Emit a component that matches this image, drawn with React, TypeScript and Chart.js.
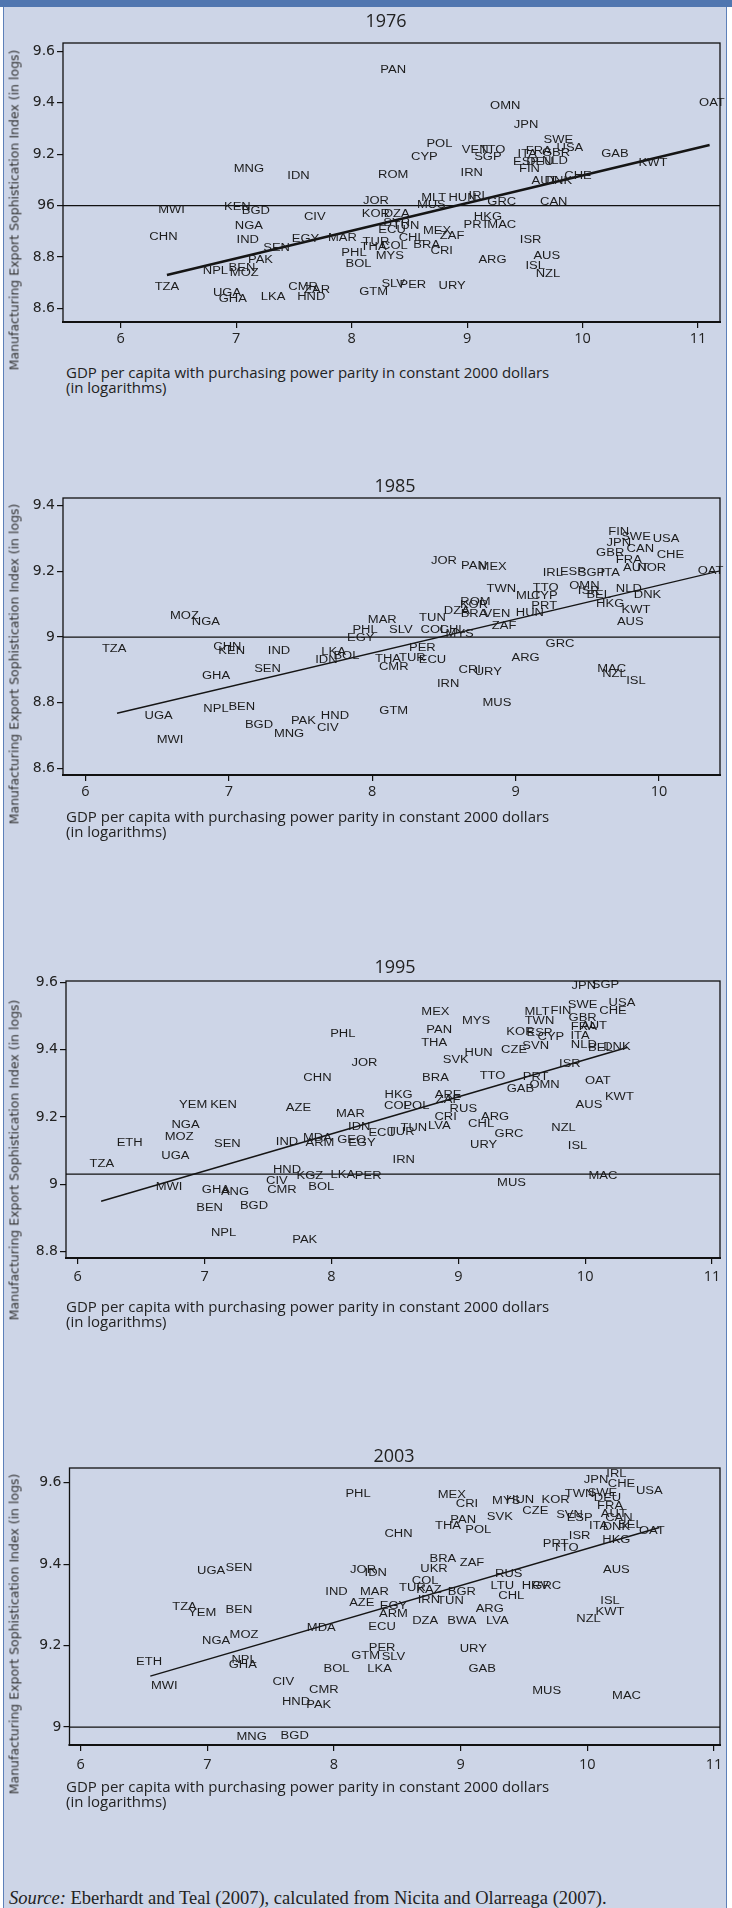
import React, { useEffect, useRef } from "react";
import { Chart, registerables } from "chart.js";
Chart.register(...registerables);

// ---------- 1976 ----------
const codes1976 = ["PAN","OMN","OAT","JPN","SWE","USA","POL","VEN","TTO","SGP","CYP","ITA","FRA","GBR","ESP","DEU","NLD","GAB","KWT","MNG","IDN","ROM","IRN","FIN","CHE","AUT","DNK","JOR","MLT","HUN","IRL","MUS","GRC","CAN","MWI","KEN","BGD","CIV","KOR","DZA","SYR","TUN","ECU","HKG","PRT","MAC","NGA","CHN","IND","MEX","CHL","ZAF","ISR","EGY","MAR","SEN","TUR","THA","COL","BRA","PHL","MYS","CRI","ARG","AUS","ISL","NZL","PAK","BOL","NPL","BEN","MOZ","TZA","UGA","GHA","LKA","CMR","ZAR","HND","GTM","SLV","PER","URY"];
const gdp1976 = [8.36,9.33,11.12,9.51,9.79,9.89,8.76,9.07,9.22,9.18,8.63,9.52,9.62,9.77,9.51,9.63,9.76,10.28,10.61,7.11,7.54,8.36,9.04,9.54,9.96,9.67,9.79,8.21,8.71,8.96,9.10,8.69,9.30,9.75,6.44,7.01,7.17,7.68,8.21,8.39,8.39,8.47,8.35,9.18,9.08,9.30,7.11,6.37,7.10,8.74,8.52,8.87,9.55,7.60,7.92,7.35,8.21,8.19,8.37,8.65,8.02,8.33,8.78,9.22,9.69,9.59,9.70,7.21,8.06,6.82,7.05,7.07,6.40,6.92,6.97,7.32,7.58,7.70,7.65,8.19,8.36,8.53,8.87];
const esi1976 = [9.525,9.388,9.40,9.314,9.253,9.223,9.24,9.214,9.214,9.188,9.188,9.20,9.212,9.205,9.167,9.17,9.171,9.20,9.165,9.142,9.113,9.12,9.126,9.142,9.113,9.096,9.093,9.016,9.029,9.029,9.038,9.003,9.012,9.012,8.983,8.994,8.977,8.955,8.968,8.968,8.93,8.92,8.903,8.955,8.925,8.925,8.918,8.877,8.867,8.899,8.873,8.879,8.864,8.87,8.873,8.834,8.856,8.838,8.84,8.847,8.815,8.804,8.821,8.786,8.804,8.763,8.734,8.786,8.772,8.743,8.756,8.737,8.681,8.659,8.636,8.644,8.682,8.67,8.644,8.661,8.695,8.691,8.685];
const fitX1976 = [6.40, 11.10];
const fitY1976 = [8.73, 9.236];
const xTicks1976 = [6, 7, 8, 9, 10, 11];
const yTicks1976 = [8.6, 8.8, 9.0, 9.2, 9.4, 9.6];
const yLabels1976 = ["8.6", "8.8", "96", "9.2", "9.4", "9.6"];

// ---------- 1985 ----------
const codes1985 = ["FIN","SWE","USA","JPN","CAN","GBR","CHE","FRA","AUT","NOR","JOR","PAN","MEX","IRL","ESP","SGP","ITA","OAT","TWN","TTO","OMN","NLD","ISR","BEL","DNK","MLT","CYP","HKG","ROM","KOR","PRT","KWT","DZA","BRA","VEN","HUN","MOZ","NGA","MAR","TUN","ZAF","AUS","PHL","SLV","COL","CHL","MYS","EGY","TZA","CHN","KEN","IND","LKA","IDN","BOL","PER","THA","TUR","ECU","CMR","GRC","ARG","SEN","GHA","CRI","URY","MAC","NZL","ISL","IRN","MUS","NPL","BEN","GTM","UGA","HND","PAK","BGD","CIV","MNG","MWI"];
const gdp1985 = [9.72,9.84,10.05,9.72,9.87,9.66,10.08,9.79,9.84,9.95,8.50,8.71,8.84,9.26,9.40,9.53,9.66,10.36,8.90,9.21,9.48,9.79,9.51,9.58,9.92,9.09,9.20,9.66,8.72,8.71,9.20,9.84,8.59,8.71,8.87,9.10,6.69,6.84,8.07,8.42,8.92,9.80,7.95,8.20,8.43,8.56,8.61,7.92,6.20,6.99,7.02,7.35,7.73,7.68,7.82,8.35,8.11,8.28,8.42,8.15,9.31,9.07,7.27,6.91,8.68,8.81,9.67,9.69,9.84,8.53,8.87,6.91,7.09,8.15,6.51,7.74,7.52,7.21,7.69,7.42,6.59];
const esi1985 = [9.319,9.305,9.299,9.286,9.268,9.254,9.249,9.233,9.21,9.21,9.23,9.215,9.213,9.193,9.197,9.193,9.193,9.20,9.146,9.149,9.156,9.146,9.139,9.126,9.126,9.124,9.124,9.101,9.105,9.098,9.093,9.081,9.078,9.07,9.07,9.073,9.063,9.044,9.052,9.058,9.032,9.044,9.022,9.022,9.022,9.022,9.01,8.997,8.963,8.968,8.956,8.956,8.953,8.930,8.941,8.966,8.933,8.936,8.928,8.908,8.978,8.937,8.902,8.88,8.898,8.893,8.902,8.888,8.866,8.857,8.798,8.781,8.785,8.773,8.758,8.76,8.745,8.732,8.722,8.705,8.686];
const fitX1985 = [6.22, 10.43];
const fitY1985 = [8.768, 9.202];
const xTicks1985 = [6, 7, 8, 9, 10];
const yTicks1985 = [8.6, 8.8, 9.0, 9.2, 9.4];
const yLabels1985 = ["8.6", "8.8", "9", "9.2", "9.4"];

// ---------- 1995 ----------
const codes1995 = ["JPN","SGP","SWE","USA","CHE","FIN","MLT","TWN","GBR","FRA","AUT","MEX","MYS","PAN","PHL","KOR","ESP","CYP","ITA","THA","SVN","NLD","BEL","DNK","HUN","CZE","SVK","JOR","ISR","CHN","BRA","TTO","PRT","OMN","GAB","OAT","KWT","HKG","ARE","POL","COL","ZAF","YEM","KEN","AZE","RUS","AUS","MAR","ARG","CRI","IDN","NGA","TUN","LVA","CHL","NZL","ECU","TUR","GRC","MOZ","MDA","ETH","SEN","IND","ARM","GEO","EGY","URY","ISL","UGA","TZA","IRN","HND","KGZ","LKA","PER","MAC","MWI","CIV","BOL","MUS","GHA","ANG","CMR","BEN","BGD","NPL","PAK"];
const gdp1995 = [9.99,10.16,9.98,10.29,10.22,9.81,9.62,9.64,9.98,9.99,10.07,8.82,9.14,8.85,8.09,9.49,9.64,9.73,9.96,8.81,9.61,9.99,10.12,10.25,9.16,9.44,8.98,8.26,9.88,7.89,8.82,9.27,9.61,9.68,9.49,10.10,10.27,8.53,8.92,8.67,8.52,8.92,6.91,7.15,7.74,9.04,10.03,8.15,9.29,8.90,8.22,6.85,8.65,8.85,9.18,9.83,8.40,8.55,9.40,6.80,7.89,6.41,7.18,7.65,7.91,8.16,8.24,9.20,9.94,6.77,6.19,8.57,7.65,7.83,8.09,8.29,10.14,6.72,7.57,7.92,9.42,7.09,7.24,7.61,7.04,7.39,7.15,7.79];
const esi1995 = [9.589,9.592,9.533,9.54,9.515,9.515,9.511,9.486,9.495,9.468,9.47,9.513,9.486,9.458,9.446,9.453,9.45,9.437,9.44,9.419,9.411,9.414,9.404,9.409,9.389,9.399,9.37,9.36,9.357,9.315,9.315,9.321,9.319,9.295,9.282,9.305,9.26,9.265,9.265,9.232,9.232,9.25,9.235,9.235,9.225,9.222,9.235,9.208,9.199,9.199,9.17,9.175,9.165,9.173,9.178,9.165,9.151,9.155,9.149,9.139,9.136,9.123,9.118,9.126,9.123,9.131,9.121,9.116,9.113,9.084,9.059,9.071,9.04,9.024,9.027,9.024,9.024,8.992,9.009,8.992,9.002,8.982,8.977,8.982,8.928,8.935,8.855,8.833];
const fitX1995 = [6.185, 10.33];
const fitY1995 = [8.949, 9.407];
const xTicks1995 = [6, 7, 8, 9, 10, 11];
const yTicks1995 = [8.8, 9.0, 9.2, 9.4, 9.6];
const yLabels1995 = ["8.8", "9", "9.2", "9.4", "9.6"];

// ---------- 2003 ----------
const codes2003 = ["IRL","JPN","CHE","USA","SWE","DEU","PHL","MEX","CRI","MYS","HUN","KOR","TWN","FRA","CZE","SVN","ESP","AUT","CAN","PAN","SVK","THA","POL","ITA","DNK","BEL","OAT","CHN","ISR","HKG","PRT","TTO","BRA","ZAF","UGA","SEN","JOR","IDN","UKR","RUS","AUS","COL","LTU","HRV","GRC","TUR","KAZ","BGR","IND","MAR","IRN","TUN","CHL","ISL","AZE","EGY","TZA","BEN","YEM","ARG","KWT","ARM","NZL","DZA","BWA","LVA","MDA","ECU","MOZ","NGA","PER","URY","GTM","SLV","ETH","NPL","GHA","BOL","LKA","GAB","MWI","CIV","CMR","MUS","MAC","HND","PAK","MNG","BGD"];
const gdp2003 = [10.23,10.07,10.27,10.49,10.12,10.16,8.19,8.93,9.05,9.36,9.47,9.75,9.94,10.18,9.59,9.86,9.94,10.21,10.25,9.02,9.31,8.90,9.14,10.09,10.23,10.34,10.51,8.51,9.94,10.23,9.75,9.83,8.86,9.09,7.03,7.25,8.23,8.33,8.79,9.38,10.23,8.72,9.33,9.59,9.68,8.62,8.75,9.01,8.02,8.32,8.75,8.92,9.40,10.18,8.22,8.47,6.82,7.25,6.96,9.23,10.18,8.47,10.01,8.72,9.01,9.29,7.90,8.38,7.29,7.07,8.38,9.10,8.25,8.47,6.54,7.29,7.28,8.02,8.36,9.17,6.66,7.60,7.92,9.68,10.31,7.70,7.88,7.35,7.69];
const esi2003 = [9.621,9.605,9.597,9.58,9.574,9.562,9.572,9.568,9.547,9.554,9.558,9.556,9.572,9.541,9.531,9.521,9.513,9.523,9.513,9.507,9.514,9.492,9.484,9.494,9.491,9.496,9.48,9.474,9.469,9.458,9.45,9.439,9.413,9.402,9.382,9.39,9.386,9.378,9.387,9.376,9.384,9.357,9.346,9.346,9.346,9.341,9.335,9.332,9.33,9.33,9.312,9.308,9.32,9.308,9.305,9.296,9.294,9.287,9.279,9.29,9.283,9.278,9.265,9.261,9.259,9.259,9.242,9.246,9.226,9.21,9.193,9.191,9.174,9.171,9.16,9.165,9.152,9.142,9.142,9.142,9.099,9.111,9.091,9.087,9.076,9.06,9.054,8.975,8.978];
const fitX2003 = [6.55, 10.57];
const fitY2003 = [9.125, 9.49];
const xTicks2003 = [6, 7, 8, 9, 10, 11];
const yTicks2003 = [9.0, 9.2, 9.4, 9.6];
const yLabels2003 = ["9", "9.2", "9.4", "9.6"];

const refLines = [9.0, 9.0, 9.03, 9.0];
const years = ["1976", "1985", "1995", "2003"];

const xTitle1 = "GDP per capita with purchasing power parity in constant 2000 dollars";
const xTitle2 = "(in logarithms)";
const yTitle = "Manufacturing Export Sophistication Index (in logs)";

const SANS = "'Open Sans', 'DejaVu Sans', sans-serif";
const DEJA = "'DejaVu Sans', Verdana, sans-serif";
const PAD_T = 14;
const PAD_B = 40;
const W = 732;

type PanelDef = {
  codes: string[]; xs: number[]; ys: number[];
  fitX: number[]; fitY: number[];
  xTicks: number[]; yTicks: number[]; yLabels: string[];
  refY: number;
  left: number; right: number; plotTop: number; plotBottom: number;
  xMin: number; xMax: number; yMin: number; yMax: number;
  xPad: number; fitW: number;
};

const panels: PanelDef[] = [
  { codes: codes1976, xs: gdp1976, ys: esi1976, fitX: fitX1976, fitY: fitY1976, xTicks: xTicks1976, yTicks: yTicks1976, yLabels: yLabels1976, refY: refLines[0],
    left: 63, right: 720, plotTop: 43, plotBottom: 322, xMin: 5.5, xMax: 11.19, yMin: 8.547, yMax: 9.633, xPad: 2, fitW: 2.4 },
  { codes: codes1985, xs: gdp1985, ys: esi1985, fitX: fitX1985, fitY: fitY1985, xTicks: xTicks1985, yTicks: yTicks1985, yLabels: yLabels1985, refY: refLines[1],
    left: 63, right: 720, plotTop: 498, plotBottom: 775, xMin: 5.843, xMax: 10.426, yMin: 8.58, yMax: 9.4235, xPad: 2, fitW: 1.4 },
  { codes: codes1995, xs: gdp1995, ys: esi1995, fitX: fitX1995, fitY: fitY1995, xTicks: xTicks1995, yTicks: yTicks1995, yLabels: yLabels1995, refY: refLines[2],
    left: 66, right: 720, plotTop: 981, plotBottom: 1258, xMin: 5.908, xMax: 11.063, yMin: 8.78, yMax: 9.605, xPad: 4, fitW: 1.4 },
  { codes: codes2003, xs: gdp2003, ys: esi2003, fitX: fitX2003, fitY: fitY2003, xTicks: xTicks2003, yTicks: yTicks2003, yLabels: yLabels2003, refY: refLines[3],
    left: 69.5, right: 720, plotTop: 1468, plotBottom: 1745, xMin: 5.912, xMax: 11.048, yMin: 8.956, yMax: 9.636, xPad: 5, fitW: 1.4 },
];

const titlePos = [[386, 20], [395, 485], [395, 966], [394, 1455]];
const xTitleTop = [365, 809, 1299, 1779];
const yTitlePos = [[14, 210], [14, 664], [14, 1160], [14, 1634]];

function Panel({ p }: { p: PanelDef }) {
  const ref = useRef<HTMLCanvasElement>(null);
  const h = p.plotBottom - p.plotTop + PAD_T + PAD_B;
  useEffect(() => {
    const canvas = ref.current!;
    const deco = {
      id: "deco",
      afterDatasetsDraw(chart: any) {
        const { ctx, chartArea: a, scales } = chart;
        ctx.save();
        const yy = scales.y.getPixelForValue(p.refY);
        ctx.strokeStyle = "#111";
        ctx.lineWidth = 1.3;
        ctx.beginPath();
        ctx.moveTo(a.left, yy);
        ctx.lineTo(a.right, yy);
        ctx.stroke();
        const meta = chart.getDatasetMeta(1);
        ctx.font = '10px "Liberation Sans", Arial, sans-serif';
        ctx.textAlign = "center";
        ctx.textBaseline = "middle";
        ctx.fillStyle = "#1c1c1c";
        meta.data.forEach((el: any, i: number) => {
          ctx.save();
          ctx.translate(el.x, el.y);
          ctx.scale(1.3, 1);
          ctx.fillText(p.codes[i], 0, 0);
          ctx.restore();
        });
        ctx.strokeStyle = "#111";
        ctx.lineWidth = 1.3;
        ctx.strokeRect(a.left, a.top, a.right - a.left, a.bottom - a.top);
        ctx.lineWidth = 2.2;
        ctx.beginPath();
        ctx.moveTo(a.left - 1, a.bottom);
        ctx.lineTo(a.right + 1, a.bottom);
        ctx.stroke();
        ctx.restore();
      },
    };
    const chart = new Chart(canvas, {
      type: "scatter",
      data: {
        datasets: [
          {
            data: p.fitX.map((x, i) => ({ x, y: p.fitY[i] })),
            showLine: true,
            borderColor: "#151515",
            borderWidth: p.fitW,
            pointRadius: 0,
          },
          {
            data: p.xs.map((x, i) => ({ x, y: p.ys[i] })),
            pointRadius: 0,
            showLine: false,
          },
        ],
      },
      options: {
        animation: false,
        responsive: false,
        devicePixelRatio: 1,
        layout: { padding: { top: PAD_T, right: W - p.right, left: 0, bottom: 0 } },
        plugins: { legend: { display: false }, tooltip: { enabled: false }, title: { display: false } },
        scales: {
          x: {
            type: "linear",
            min: p.xMin,
            max: p.xMax,
            afterBuildTicks: (s: any) => { s.ticks = p.xTicks.map((v) => ({ value: v })); },
            afterFit: (s: any) => { s.height = PAD_B; },
            ticks: {
              autoSkip: false, maxRotation: 0, padding: p.xPad, color: "#222",
              font: { family: SANS, size: 14.5 },
              callback: (v: any) => String(v),
            },
            grid: { display: true, drawOnChartArea: false, drawTicks: true, tickLength: 6, color: "#111", lineWidth: 1.2 },
            border: { display: false },
          },
          y: {
            type: "linear",
            min: p.yMin,
            max: p.yMax,
            afterBuildTicks: (s: any) => { s.ticks = p.yTicks.map((v) => ({ value: v })); },
            afterFit: (s: any) => { s.width = p.left; },
            ticks: {
              autoSkip: false, padding: 2, color: "#222",
              font: { family: DEJA, size: 14 },
              callback: (v: any) => {
                const i = p.yTicks.findIndex((t) => Math.abs(t - Number(v)) < 1e-6);
                return i >= 0 ? p.yLabels[i] : "";
              },
            },
            grid: { display: true, drawOnChartArea: false, drawTicks: true, tickLength: 6, color: "#111", lineWidth: 1.2 },
            border: { display: false },
          },
        },
      } as any,
      plugins: [deco],
    });
    return () => chart.destroy();
  }, []);
  return (
    <canvas
      ref={ref}
      width={W}
      height={h}
      style={{ position: "absolute", left: 0, top: p.plotTop - PAD_T, width: W, height: h }}
    />
  );
}

export default function App() {
  return (
    <div style={{ position: "absolute", left: 0, top: 0, width: W, height: 1908, background: "#ffffff", overflow: "hidden", fontFamily: SANS }}>
      <div style={{ position: "absolute", left: 3, top: 0, width: 724, height: 1908, background: "#cdd5e7", borderLeft: "1.5px solid #5d80b9", borderRight: "1.5px solid #5d80b9", boxSizing: "border-box" }} />
      <div style={{ position: "absolute", left: 0, top: 0, width: W, height: 7, background: "#5076b0" }} />
      {panels.map((p, k) => (
        <React.Fragment key={k}>
          <Panel p={p} />
          <div style={{ position: "absolute", left: titlePos[k][0], top: titlePos[k][1], transform: "translate(-50%, -50%)", fontSize: 18, color: "#222", whiteSpace: "nowrap" }}>{years[k]}</div>
          <div style={{ position: "absolute", left: 66, top: xTitleTop[k], fontSize: 15, lineHeight: "15px", color: "#222", whiteSpace: "nowrap" }}>
            {xTitle1}<br />{xTitle2}
          </div>
          <div style={{ position: "absolute", left: yTitlePos[k][0], top: yTitlePos[k][1], transform: "translate(-50%, -50%) rotate(-90deg)", fontFamily: DEJA, fontSize: 12.5, color: "#333", whiteSpace: "nowrap" }}>{yTitle}</div>
        </React.Fragment>
      ))}
      <div style={{ position: "absolute", left: 9, top: 1888, fontFamily: "'Liberation Serif', 'DejaVu Serif', serif", fontSize: 18.5, lineHeight: "21px", color: "#222", whiteSpace: "nowrap" }}>
        <i>Source:</i> Eberhardt and Teal (2007), calculated from Nicita and Olarreaga (2007).
      </div>
    </div>
  );
}
